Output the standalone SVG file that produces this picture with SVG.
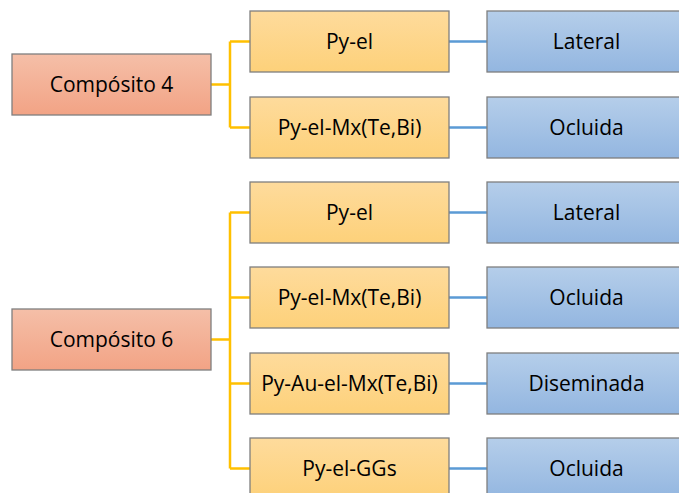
<svg xmlns="http://www.w3.org/2000/svg" width="679" height="493" viewBox="0 0 679 493">
<defs>
<linearGradient id="gS" x1="0" y1="0" x2="0" y2="1"><stop offset="0" stop-color="#F5BFA8"/><stop offset="1" stop-color="#F2A385"/></linearGradient>
<linearGradient id="gO" x1="0" y1="0" x2="0" y2="1"><stop offset="0" stop-color="#FEDB9C"/><stop offset="1" stop-color="#FDD17A"/></linearGradient>
<linearGradient id="gB" x1="0" y1="0" x2="0" y2="1"><stop offset="0" stop-color="#B5CEEA"/><stop offset="1" stop-color="#93B6E0"/></linearGradient>
<style>
rect{stroke:#7F7F7F;stroke-width:1.3}
.s{fill:url(#gS)} .o{fill:url(#gO)} .b{fill:url(#gB)}
text{font-family:"Open Sans","Liberation Sans",sans-serif;font-size:21px;fill:#000;text-anchor:middle;dominant-baseline:central}
.oc{stroke:#FFC000;stroke-width:2.5;fill:none}
.bc{stroke:#5B9BD5;stroke-width:2.5;fill:none}
</style>
</defs>
<g id="connectors">
<path class="oc" d="M211 84.5H230M230 41.5V127.5M230 41.5H250M230 127.5H250"/>
<path class="oc" d="M211 339.5H230M230 212.5V468.5M230 212.5H250M230 297.5H250M230 383.5H250M230 468.5H250"/>
<path class="bc" d="M449 41.5H487M449 127.5H487M449 212.5H487M449 297.5H487M449 383.5H487M449 468.5H487"/>
</g>
<g id="c4"><rect class="s" x="12" y="54" width="199" height="61"/><text x="111.5" y="83.5">Compósito 4</text></g>
<g id="c6"><rect class="s" x="12" y="309" width="199" height="61"/><text x="111.5" y="338.5">Compósito 6</text></g>
<g id="o1"><rect class="o" x="250" y="11" width="199" height="61"/><text x="349.5" y="40.5">Py-el</text></g>
<g id="o2"><rect class="o" x="250" y="97" width="199" height="61"/><text x="349.5" y="126.5">Py-el-Mx(Te,Bi)</text></g>
<g id="o3"><rect class="o" x="250" y="182" width="199" height="61"/><text x="349.5" y="211.5">Py-el</text></g>
<g id="o4"><rect class="o" x="250" y="267" width="199" height="61"/><text x="349.5" y="296.5">Py-el-Mx(Te,Bi)</text></g>
<g id="o5"><rect class="o" x="250" y="353" width="199" height="61"/><text x="349.5" y="382.5">Py-Au-el-Mx(Te,Bi)</text></g>
<g id="o6"><rect class="o" x="250" y="438" width="199" height="61"/><text x="349.5" y="467.5">Py-el-GGs</text></g>
<g id="b1"><rect class="b" x="487" y="11" width="199" height="61"/><text x="586.5" y="40.5">Lateral</text></g>
<g id="b2"><rect class="b" x="487" y="97" width="199" height="61"/><text x="586.5" y="126.5">Ocluida</text></g>
<g id="b3"><rect class="b" x="487" y="182" width="199" height="61"/><text x="586.5" y="211.5">Lateral</text></g>
<g id="b4"><rect class="b" x="487" y="267" width="199" height="61"/><text x="586.5" y="296.5">Ocluida</text></g>
<g id="b5"><rect class="b" x="487" y="353" width="199" height="61"/><text x="586.5" y="382.5">Diseminada</text></g>
<g id="b6"><rect class="b" x="487" y="438" width="199" height="61"/><text x="586.5" y="467.5">Ocluida</text></g>
</svg>
